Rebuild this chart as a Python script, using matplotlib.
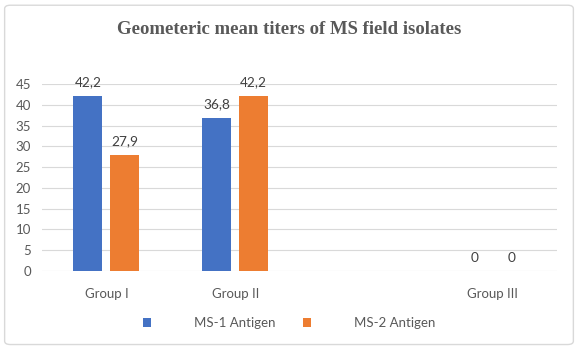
import numpy as np
import matplotlib
matplotlib.use("Agg")
import matplotlib.pyplot as plt
from matplotlib.patches import FancyBboxPatch

# Excel-style layout: an empty slot sits between Group II and Group III
groups = ["Group I", "Group II", "", "Group III"]
ms1 = [42.2, 36.8, np.nan, 0]
ms2 = [27.9, 42.2, np.nan, 0]
ms1_labels = ["42,2", "36,8", "", "0"]
ms2_labels = ["27,9", "42,2", "", "0"]
yticks = [0, 5, 10, 15, 20, 25, 30, 35, 40, 45]

blue = "#4472C4"
orange = "#ED7D31"
txt = "#595959"

plt.rcParams["font.family"] = ["Lato", "DejaVu Sans"]

fig = plt.figure(figsize=(5.78, 3.48), dpi=100)
fig.patches.append(FancyBboxPatch((0.008, 0.01), 0.984, 0.975, boxstyle="round,pad=0,rounding_size=0.01",
                                  transform=fig.transFigure, fill=False, edgecolor="#d9d9d9", linewidth=1.0))

ax = fig.add_axes([42 / 578, 1 - 271 / 348, 515 / 578, 187 / 348])
x = np.arange(len(groups))
w = 0.225
gap = 0.062
b1 = ax.bar(x - (w + gap) / 2, ms1, w, color=blue, label="MS-1 Antigen")
b2 = ax.bar(x + (w + gap) / 2, ms2, w, color=orange, label="MS-2 Antigen")

for bars, labels in ((b1, ms1_labels), (b2, ms2_labels)):
    for rect, lab in zip(bars, labels):
        if not lab:
            continue
        ax.text(rect.get_x() + rect.get_width() / 2, rect.get_height() + 1.8, lab,
                ha="center", va="bottom", fontsize=9.8, color="#404040")

ax.set_xlim(-0.5, len(groups) - 0.5)
ax.set_ylim(0, 45)
ax.set_yticks(yticks)
ax.set_xticks(x)
ax.set_xticklabels(groups)
ax.tick_params(axis="both", length=0, labelsize=9.5, labelcolor=txt)
ax.tick_params(axis="x", pad=12)
ax.tick_params(axis="y", pad=8)
ax.yaxis.grid(True, color="#d9d9d9", linewidth=0.8)
ax.set_axisbelow(True)
for s in ax.spines.values():
    s.set_visible(False)

fig.text(0.5, 1 - 30 / 348, "Geometeric mean titers of MS field isolates", ha="center", va="center",
         fontsize=13.5, fontweight="bold", color=txt, family="Liberation Serif")

ax.legend(loc="center", bbox_to_anchor=(0.5, 1 - 323 / 348), bbox_transform=fig.transFigure,
          ncol=2, frameon=False, fontsize=9.5, labelcolor=txt, handlelength=0.65, handleheight=0.65,
          handletextpad=3.2, columnspacing=2.1)

fig.savefig("out.png", dpi=100)
